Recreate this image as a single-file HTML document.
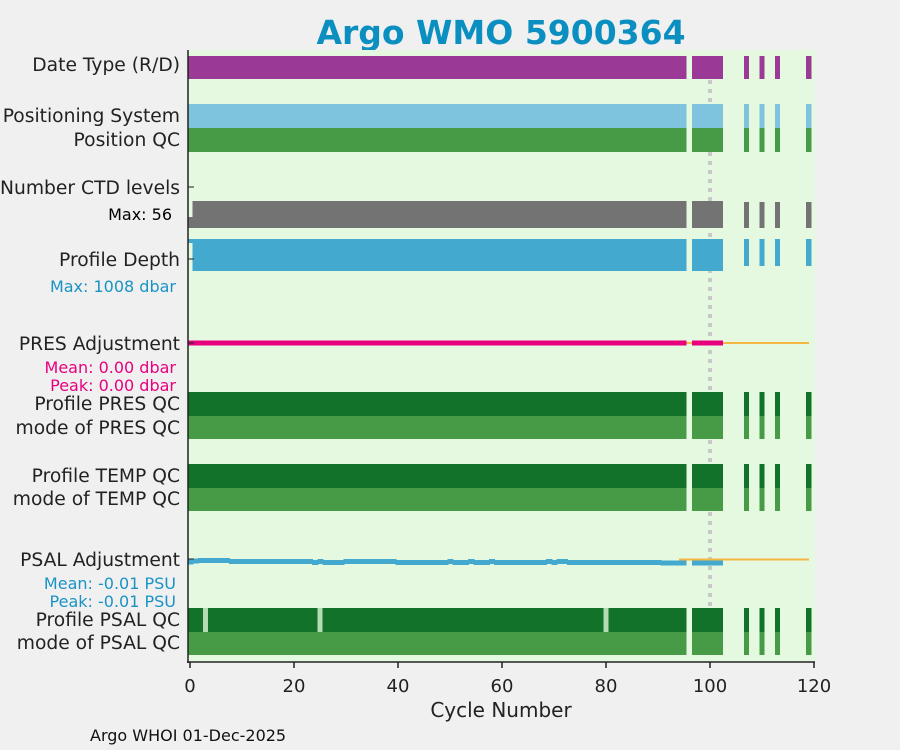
<!DOCTYPE html>
<html><head><meta charset="utf-8"><style>
body{margin:0;background:#f0f0f0;}
svg{display:block;font-family:"DejaVu Sans","Liberation Sans",sans-serif;}
</style></head><body>
<svg id="chart" width="900" height="750">
<text x="501" y="44" text-anchor="middle" font-size="33" font-weight="bold" fill="#0a8fc0">Argo WMO 5900364</text>
<rect x="188" y="50" width="627" height="612" fill="#e5f8e0"/>
<line x1="710" y1="80" x2="710" y2="606" stroke="#c8c8c8" stroke-width="4" stroke-dasharray="4,5"/>
<g id="marks" shape-rendering="crispEdges"></g>
<line x1="188" y1="50" x2="188" y2="663" stroke="#222" stroke-width="1.5"/>
<line x1="187" y1="662" x2="815" y2="662" stroke="#222" stroke-width="1.5"/>
<g id="xticks"></g>
<text x="501" y="717" text-anchor="middle" font-size="20" fill="#222">Cycle Number</text>
<text x="90" y="741" font-size="16" fill="#111">Argo WHOI 01-Dec-2025</text>
<g font-size="18.7" fill="#222" text-anchor="end">
<text x="180" y="71">Date Type (R/D)</text>
<text x="180" y="122">Positioning System</text>
<text x="180" y="146">Position QC</text>
<text x="180" y="194">Number CTD levels</text>
<text x="172" y="220" font-size="16" fill="#000">Max: 56</text>
<text x="180" y="266">Profile Depth</text>
<text x="176" y="292" font-size="16" fill="#1a93c4">Max: 1008 dbar</text>
<text x="180" y="350">PRES Adjustment</text>
<text x="176" y="373" font-size="16" fill="#e8007f">Mean: 0.00 dbar</text>
<text x="176" y="391" font-size="16" fill="#e8007f">Peak: 0.00 dbar</text>
<text x="180" y="410">Profile PRES QC</text>
<text x="180" y="434">mode of PRES QC</text>
<text x="180" y="482">Profile TEMP QC</text>
<text x="180" y="505">mode of TEMP QC</text>
<text x="180" y="566">PSAL Adjustment</text>
<text x="176" y="589" font-size="16" fill="#1a93c4">Mean: -0.01 PSU</text>
<text x="176" y="607" font-size="16" fill="#1a93c4">Peak: -0.01 PSU</text>
<text x="180" y="626">Profile PSAL QC</text>
<text x="180" y="649">mode of PSAL QC</text>
</g>
</svg>
<script>
const cycles = [];
for (let c = 0; c <= 95; c++) cycles.push(c);
for (let c = 97; c <= 102; c++) cycles.push(c);
cycles.push(107, 110, 113, 119);
const xTicks = [0, 20, 40, 60, 80, 100, 120];
const psalBadCycles = [3, 25, 80];
const psalAdjValues = [-0.012,-0.008,-0.005,-0.005,-0.005,-0.005,-0.005,-0.005,-0.010,-0.010,-0.010,-0.010,-0.010,-0.010,-0.010,-0.010,-0.010,-0.010,-0.010,-0.010,-0.010,-0.010,-0.010,-0.010,-0.014,-0.010,-0.014,-0.014,-0.014,-0.014,-0.010,-0.010,-0.010,-0.010,-0.010,-0.010,-0.010,-0.010,-0.010,-0.010,-0.014,-0.014,-0.014,-0.014,-0.014,-0.014,-0.014,-0.014,-0.014,-0.014,-0.010,-0.014,-0.014,-0.014,-0.010,-0.014,-0.014,-0.014,-0.010,-0.014,-0.014,-0.014,-0.014,-0.014,-0.014,-0.014,-0.014,-0.014,-0.014,-0.010,-0.014,-0.010,-0.010,-0.014,-0.014,-0.014,-0.014,-0.014,-0.014,-0.014,-0.014,-0.014,-0.014,-0.014,-0.014,-0.014,-0.014,-0.014,-0.014,-0.014,-0.014,-0.016,-0.016,-0.016,-0.016,-0.016,null,-0.016,-0.016,-0.016,-0.016,-0.016,-0.016];
const presAdjValues = [0,0];
const X0 = 190, PX = 5.2;
const xs = c => X0 + c * PX;
const g = document.getElementById('marks');
const NS = 'http://www.w3.org/2000/svg';
function rect(x, y, w, h, fill, name) {
  const r = document.createElementNS(NS, 'rect');
  r.setAttribute('x', x); r.setAttribute('y', y); r.setAttribute('width', w); r.setAttribute('height', h); r.setAttribute('fill', fill);
  
  
  g.appendChild(r);
}
const cont = c => cycles.includes(c + 1);
const W = c => PX + (cont(c) ? 1 : 0);
const rows = [
  {y:56,h:23,fill:'#9b3a96',name:'date-type-bar'},
  {y:104,h:24,fill:'#7fc4de',name:'positioning-bar'},
  {y:128,h:24,fill:'#479a46',name:'position-qc-bar'},
  {y:392,h:24,fill:'#137229',name:'pres-qc-bar'},
  {y:416,h:23,fill:'#479a46',name:'pres-mode-bar'},
  {y:464,h:24,fill:'#137229',name:'temp-qc-bar'},
  {y:488,h:23,fill:'#479a46',name:'temp-mode-bar'},
  {y:608,h:24,fill:'#137229',name:'psal-qc-bar',bad:psalBadCycles},
  {y:632,h:23,fill:'#479a46',name:'psal-mode-bar'}
];
rows.forEach(r => cycles.forEach(c => {
  const col = (r.bad && r.bad.includes(c)) ? '#b5dcb0' : r.fill;
  rect(xs(c - 0.5), r.y, W(c), r.h, col, r.name);
}));
cycles.forEach(c => {
  const sparse = c > 102;
  if (c === 0) rect(xs(-0.5), 217, PX, 11, '#737373', 'ctd-levels-bar');
  else rect(xs(c - 0.5), sparse ? 202 : 201, W(c), sparse ? 26 : 27, '#737373', 'ctd-levels-bar');
  if (c === 0) rect(xs(-0.5), 239, PX, 4, '#43a9cf', 'profile-depth-bar');
  else rect(xs(c - 0.5), 239, W(c), sparse ? 27 : 32, '#43a9cf', 'profile-depth-bar');
});
const pl = document.createElementNS(NS, 'line');
pl.setAttribute('x1', xs(94)); pl.setAttribute('x2', xs(119)); pl.setAttribute('y1', 343); pl.setAttribute('y2', 343);
pl.setAttribute('stroke', '#f5b843'); pl.setAttribute('stroke-width', 2);


g.appendChild(pl);
const sl = document.createElementNS(NS, 'line');
sl.setAttribute('x1', xs(94)); sl.setAttribute('x2', xs(119)); sl.setAttribute('y1', 559.5); sl.setAttribute('y2', 559.5);
sl.setAttribute('stroke', '#f5b843'); sl.setAttribute('stroke-width', 2);


g.appendChild(sl);
cycles.filter(c => c <= 102).forEach(c => {
  const v = presAdjValues[c] || 0;
  rect(xs(c - 0.5), 340.5 - v * 100, W(c), 5, '#e8007f', 'pres-adjustment-mark');
});
cycles.filter(c => c <= 102).forEach(c => {
  const v = psalAdjValues[c];
  if (v == null) return;
  rect(xs(c - 0.5), 559 - v * 250 - 2.5, W(c), 5, '#43a9cf', 'psal-adjustment-mark');
});
const xt = document.getElementById('xticks');
xTicks.forEach(t => {
  const l = document.createElementNS(NS, 'line');
  l.setAttribute('x1', xs(t)); l.setAttribute('x2', xs(t)); l.setAttribute('y1', 662); l.setAttribute('y2', 668);
  l.setAttribute('stroke', '#222'); l.setAttribute('stroke-width', 1.5);
  
  
  xt.appendChild(l);
  const tx = document.createElementNS(NS, 'text');
  tx.setAttribute('x', xs(t)); tx.setAttribute('y', 692); tx.setAttribute('text-anchor', 'middle');
  tx.setAttribute('font-size', '18'); tx.setAttribute('fill', '#222');
  tx.textContent = t;
  
  
  xt.appendChild(tx);
});
[187, 259, 343, 559].forEach(y => {
  const l = document.createElementNS(NS, 'line');
  l.setAttribute('x1', 188); l.setAttribute('x2', 194); l.setAttribute('y1', y); l.setAttribute('y2', y);
  l.setAttribute('stroke', '#222'); l.setAttribute('stroke-width', 1);
  
  
  xt.appendChild(l);
});
</script>
</body></html>
